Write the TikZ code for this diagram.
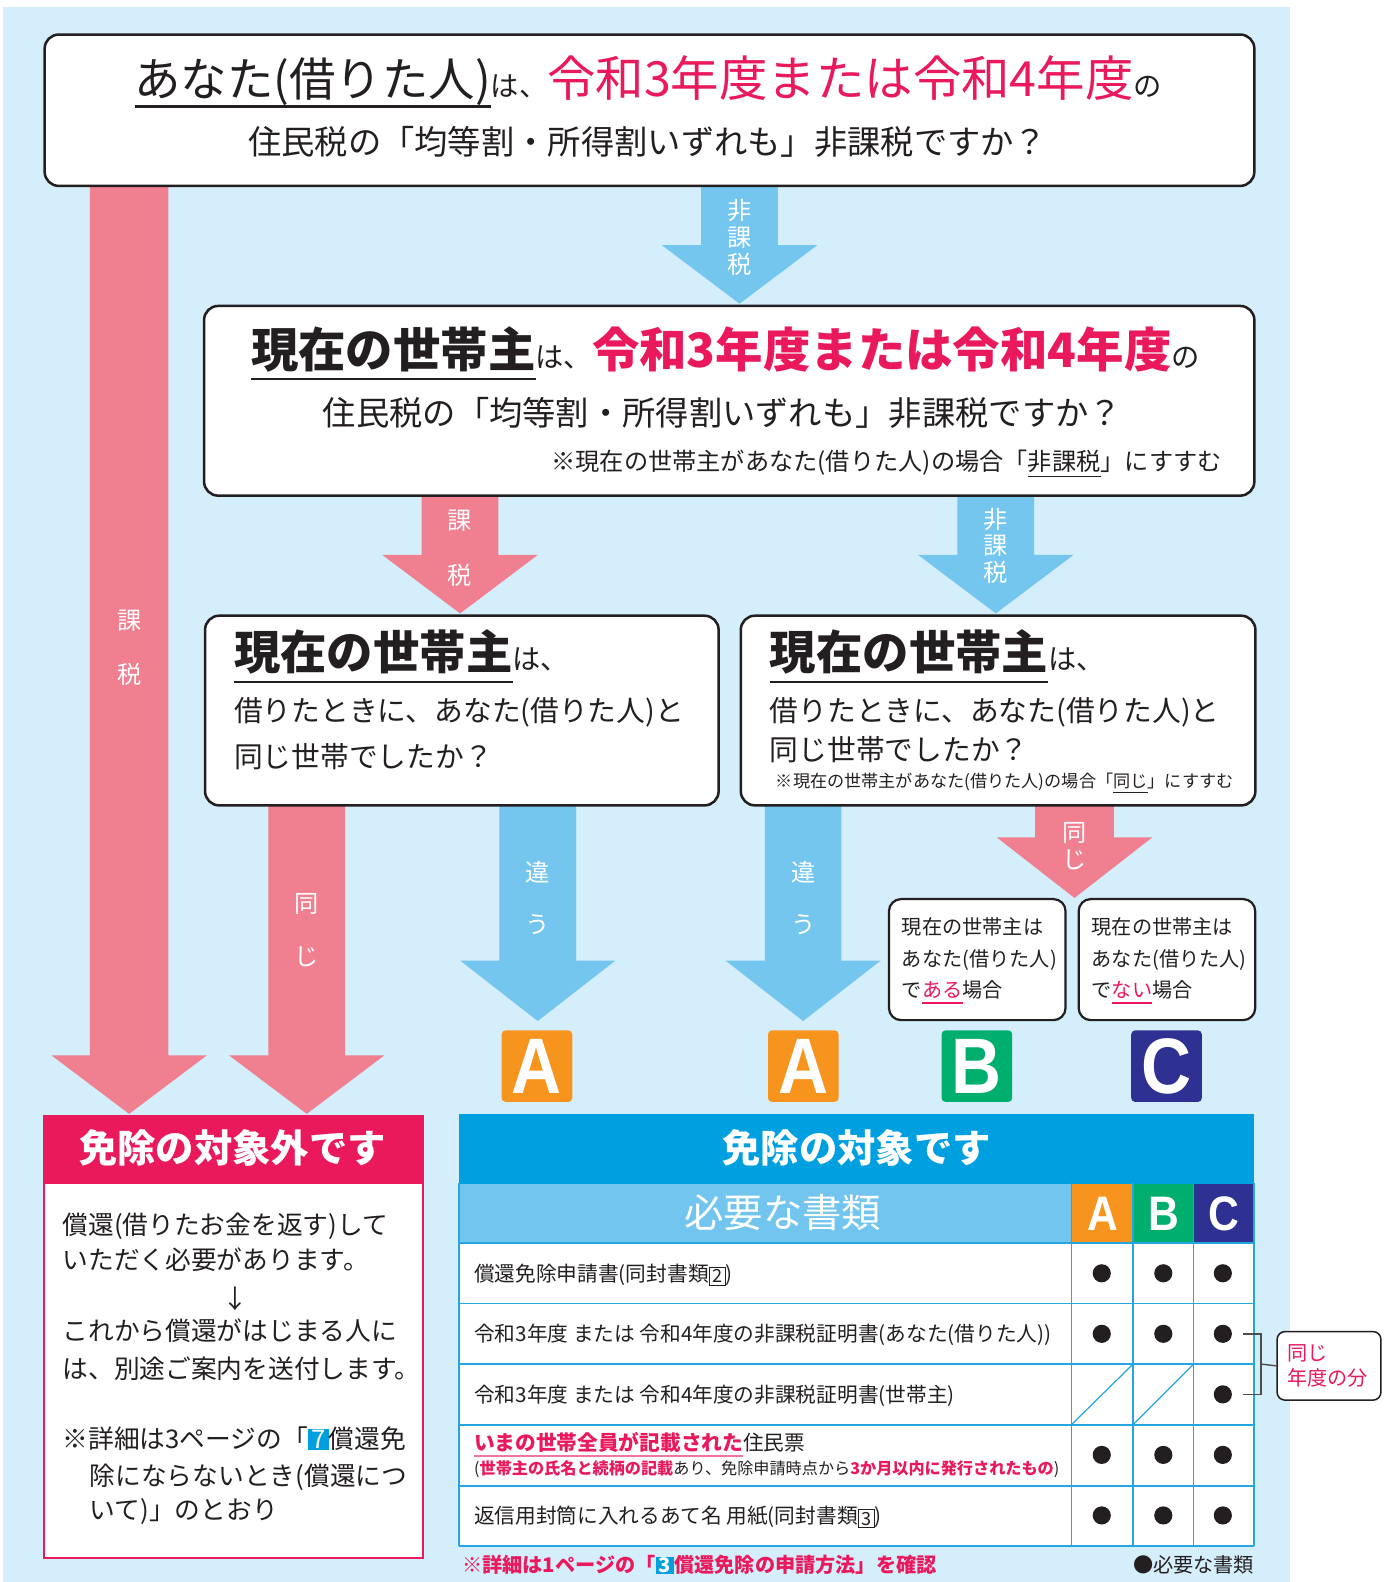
\documentclass[tikz,border=0pt]{standalone}
\usepackage{fontspec}
\usepackage{graphicx}
\setmainfont{Noto Sans CJK JP}
\newfontfamily\lat{Liberation Sans}
\usetikzlibrary{calc}
\definecolor{bg}{HTML}{D4EEFB}
\definecolor{pk}{HTML}{F07F90}
\definecolor{bl}{HTML}{74C6EF}
\definecolor{mag}{HTML}{E9195C}
\definecolor{dark}{HTML}{231F20}
\definecolor{hblue}{HTML}{00A0E0}
\definecolor{lblue}{HTML}{72C5EE}
\definecolor{tline}{HTML}{25A6E0}
\definecolor{org}{HTML}{F7941D}
\definecolor{grn}{HTML}{00AE6D}
\definecolor{nvy}{HTML}{2E3192}
\definecolor{gry}{HTML}{4D4D4D}
\newcommand\fsz[1]{\fontsize{#1}{#1}\selectfont}
\newcommand\ulx[4]{\setbox0\hbox{#4}\rlap{\textcolor{#3}{\rule[-#1pt]{\wd0}{#2pt}}}\box0}
\newcommand\numbox[1]{{\setlength\fboxsep{1.2pt}\colorbox{hblue}{\hspace{2pt}\textcolor{white}{#1}\hspace{2pt}}}}
\newcommand\sqbox[1]{{\setlength\fboxsep{2pt}\setlength\fboxrule{0.9pt}\raisebox{-1.5pt}{\fbox{\fsz{18}\hspace{0.5pt}#1\hspace{0.5pt}}}}}
\newcommand\barrow[7]{\fill[#1] (#2-#6,#3) -- (#2+#6,#3) -- (#2+#6,#4) -- (#2+#7,#4) -- (#2,#5) -- (#2-#7,#4) -- (#2-#6,#4) -- cycle;}
\tikzset{
 txt/.style={inner sep=0pt, outer sep=0pt, text=dark},
 qbox/.style={draw=dark, line width=2.5pt, rounded corners=14pt, fill=white, anchor=north west, inner sep=0pt},
 sbox/.style={draw=dark, line width=2.2pt, rounded corners=12pt, fill=white, anchor=north west, inner sep=0pt},
 alab/.style={inner sep=0pt, text=white, font=\fsz{24}},
 badge/.style={rounded corners=4pt, inner sep=0pt, anchor=north west, text=white},
 dot/.style={circle, fill=dark, inner sep=0pt, minimum size=18pt},
 tcell/.style={inner sep=0pt, anchor=north west},
}
\begin{document}
\begin{tikzpicture}[x=1pt,y=-1pt]
\useasboundingbox (0,0) rectangle (1380,1568);
\fill[white] (0,0) rectangle (1380,1568);
\fill[bg] (3,7) rectangle (1279,1568);

% ---- block arrows ----
\barrow{bl}{733}{180}{243}{301}{38}{77}
\barrow{pk}{128}{180}{1046}{1104}{39}{77}
\barrow{pk}{456}{488}{550}{608}{38}{77}
\barrow{bl}{987}{488}{550}{608}{38}{77}
\barrow{pk}{304}{795}{1046}{1104}{38}{77}
\barrow{bl}{533}{795}{952}{1012}{38}{77}
\barrow{bl}{796}{795}{952}{1012}{38}{77}
\barrow{pk}{1065}{795}{830}{890}{39}{77}

% arrow labels
\node[alab] (a1a) at (733,209) {非};
\node[alab] (a1b) at (733,236) {課};
\node[alab] (a1c) at (733,262) {税};
\node[alab] (a2a) at (128,615) {課};
\node[alab] (a2b) at (128,668) {税};
\node[alab] (a3a) at (456,516) {課};
\node[alab] (a3b) at (456,570) {税};
\node[alab] (a4a) at (987,515) {非};
\node[alab] (a4b) at (987,541) {課};
\node[alab] (a4c) at (987,567) {税};
\node[alab] (a5a) at (304,896) {同};
\node[alab] (a5b) at (304,948) {じ};
\node[alab] (a6a) at (533,864) {違};
\node[alab] (a6b) at (533,916) {う};
\node[alab] (a7a) at (796,864) {違};
\node[alab] (a7b) at (796,916) {う};
\node[alab] (a8a) at (1065,826) {同};
\node[alab] (a8b) at (1065,852) {じ};

% ---- question boxes ----
\node[qbox, minimum width=1199pt, minimum height=150pt] (q1) at (43,33) {};
\node[txt, anchor=base] (q1l1) at (642.5,96) {\fsz{46}\ulx{11}{2.5}{dark}{あなた(借りた人)}\fsz{28}は、\fsz{48}\textcolor{mag}{令和3年度または令和4年度}\fsz{28}の};
\node[txt, anchor=base] (q1l2) at (642,153) {\fsz{33}住民税の「均等割・所得割いずれも」非課税ですか？};

\node[qbox, minimum width=1041pt, minimum height=188pt] (q2) at (201,302) {};
\node[txt, anchor=base] (q2l1) at (719,364) {\bfseries\fsz{47}\ulx{13}{2.5}{dark}{現在の世帯主}\mdseries\fsz{28}は、\bfseries\fsz{47}\textcolor{mag}{令和3年度または令和4年度}\mdseries\fsz{28}の};
\node[txt, anchor=base] (q2l2) at (716,422) {\fsz{33}住民税の「均等割・所得割いずれも」非課税ですか？};
\node[txt, anchor=base east] (q2l3) at (1211,466) {\fsz{24}※現在の世帯主があなた(借りた人)の場合「\ulx{7}{1.5}{dark}{非課税}」にすすむ};

\node[qbox, minimum width=509pt, minimum height=188pt] (q3) at (202,609) {};
\node[txt, anchor=base west] (q3l1) at (232,664) {\bfseries\fsz{46}\ulx{13}{2.5}{dark}{現在の世帯主}\mdseries\fsz{28}は、};
\node[txt, anchor=base west] (q3l2) at (232,715) {\fsz{28.5}借りたときに、あなた(借りた人)と};
\node[txt, anchor=base west] (q3l3) at (232,761) {\fsz{28.5}同じ世帯でしたか？};

\node[qbox, minimum width=510pt, minimum height=188pt] (q4) at (733,609) {};
\node[txt, anchor=base west] (q4l1) at (763,664) {\bfseries\fsz{46}\ulx{13}{2.5}{dark}{現在の世帯主}\mdseries\fsz{28}は、};
\node[txt, anchor=base west] (q4l2) at (763,715) {\fsz{28.5}借りたときに、あなた(借りた人)と};
\node[txt, anchor=base west] (q4l3) at (763,754) {\fsz{28.5}同じ世帯でしたか？};
\node[txt, anchor=base west] (q4l4) at (769,781) {\fsz{17}※現在の世帯主があなた(借りた人)の場合「\ulx{5}{1.2}{dark}{同じ}」にすすむ};

% ---- small boxes ----
\node[sbox, minimum width=175pt, minimum height=120pt] (sb) at (880,890) {};
\node[txt, anchor=base west] (sb1) at (894,926) {\fsz{20}現在の世帯主は};
\node[txt, anchor=base west] (sb2) at (894,958) {\fsz{20}あなた(借りた人)};
\node[txt, anchor=base west] (sb3) at (894,989) {\fsz{20}で\ulx{6}{1.6}{mag}{\textcolor{mag}{ある}}場合};
\node[sbox, minimum width=175pt, minimum height=120pt] (sc) at (1068,890) {};
\node[txt, anchor=base west] (sc1) at (1082,926) {\fsz{20}現在の世帯主は};
\node[txt, anchor=base west] (sc2) at (1082,958) {\fsz{20}あなた(借りた人)};
\node[txt, anchor=base west] (sc3) at (1082,989) {\fsz{20}で\ulx{6}{1.6}{mag}{\textcolor{mag}{ない}}場合};

% ---- badges ----
\node[badge, fill=org, minimum width=70pt, minimum height=71pt] (bA1) at (497,1021) {};
\node[txt, text=white] at (bA1.center) {\lat\bfseries\fsz{78}\scalebox{0.88}[1]{A}};
\node[badge, fill=org, minimum width=70pt, minimum height=71pt] (bA2) at (761,1021) {};
\node[txt, text=white] at (bA2.center) {\lat\bfseries\fsz{78}\scalebox{0.88}[1]{A}};
\node[badge, fill=grn, minimum width=70pt, minimum height=71pt] (bB) at (933,1021) {};
\node[txt, text=white] at (bB.center) {\lat\bfseries\fsz{78}\scalebox{0.88}[1]{B}};
\node[badge, fill=nvy, minimum width=70pt, minimum height=71pt] (bC) at (1121,1021) {};
\node[txt, text=white] at (bC.center) {\lat\bfseries\fsz{78}\scalebox{0.88}[1]{C}};

% ---- left result ----
\node[tcell, fill=white, draw=mag, line width=2pt, minimum width=375pt, minimum height=438pt] (lres) at (43,1105) {};
\node[tcell, fill=mag, minimum width=375pt, minimum height=68pt] (lhead) at (43,1105) {};
\node[txt, anchor=base, text=white] (lht) at (230.5,1152) {\bfseries\fsz{38}免除の対象外です};
\node[txt, anchor=base west] (lb1) at (62,1224) {\fsz{25.5}償還(借りたお金を返す)して};
\node[txt, anchor=base west] (lb2) at (62,1258) {\fsz{25.5}いただく必要があります。};
\node[txt] (lb3) at (233,1287) {\fsz{25.5}↓};
\node[txt, anchor=base west] (lb4) at (62,1329) {\fsz{25.5}これから償還がはじまる人に};
\node[txt, anchor=base west] (lb5) at (62,1366) {\fsz{25.5}は、別途ご案内を送付します。};
\node[txt, anchor=base west] (lb6) at (62,1436) {\fsz{25.5}※詳細は3ページの「\numbox{7}償還免};
\node[txt, anchor=base west] (lb7) at (89,1472) {\fsz{25.5}除にならないとき(償還につ};
\node[txt, anchor=base west] (lb8) at (89,1506) {\fsz{25.5}いて)」のとおり};

% ---- right table ----
\node[tcell, fill=hblue, minimum width=788pt, minimum height=69pt] (thead) at (455,1104) {};
\node[txt, anchor=base, text=white] (tht) at (849,1152) {\bfseries\fsz{38}免除の対象です};
\node[tcell, fill=lblue, minimum width=607pt, minimum height=59pt] (tsub) at (455,1173) {};
\node[txt, anchor=base, text=white] (tst) at (776,1217) {\fsz{39}必要な書類};
\node[tcell, fill=org, minimum width=61pt, minimum height=59pt] (hA) at (1062,1173) {};
\node[tcell, fill=grn, minimum width=60pt, minimum height=59pt] (hB) at (1123,1173) {};
\node[tcell, fill=nvy, minimum width=60pt, minimum height=59pt] (hC) at (1183,1173) {};
\node[txt, text=white] at (hA.center) {\lat\bfseries\fsz{48}\scalebox{0.88}[1]{A}};
\node[txt, text=white] at (hB.center) {\lat\bfseries\fsz{48}\scalebox{0.88}[1]{B}};
\node[txt, text=white] at (hC.center) {\lat\bfseries\fsz{48}\scalebox{0.88}[1]{C}};
\fill[white] (455,1232) rectangle (1243,1532);
\begin{scope}[tline, line width=1.8pt]
\foreach \yy in {1232,1292,1352,1412,1473,1532} \draw (455,\yy) -- (1243,\yy);
\draw (455,1173) -- (455,1532);
\foreach \xx in {1062,1123,1183} \draw (\xx,1173) -- (\xx,1532);
\draw (1243,1173) -- (1243,1532);
\draw[line width=1.2pt] (1062,1412) -- (1123,1352);
\draw[line width=1.2pt] (1123,1412) -- (1183,1352);
\end{scope}
\node[txt, anchor=base west] (r1) at (470,1270) {\fsz{20.5}償還免除申請書(同封書類\sqbox{2})};
\node[txt, anchor=base west] (r2) at (470,1330) {\fsz{20.5}令和3年度 または 令和4年度の非課税証明書(あなた(借りた人))};
\node[txt, anchor=base west] (r3) at (470,1390) {\fsz{20.5}令和3年度 または 令和4年度の非課税証明書(世帯主)};
\node[txt, anchor=base west] (r4) at (470,1438) {\fsz{20.5}\ulx{6}{2}{mag!60}{\bfseries\textcolor{mag}{いまの世帯全員が記載された}}住民票};
\node[txt, anchor=base west] (r4b) at (470,1461) {\fsz{16}(\textcolor{mag}{\bfseries 世帯主の氏名と続柄の記載}あり、免除申請時点から\textcolor{mag}{\bfseries 3か月以内に発行されたもの})};
\node[txt, anchor=base west] (r5) at (470,1510) {\fsz{20.5}返信用封筒に入れるあて名 用紙(同封書類\sqbox{3})};
\foreach \yy/\nm in {1262/1,1322/2,1442/4,1502/5} {
  \node[dot] (dA\nm) at (1092,\yy) {};
  \node[dot] (dB\nm) at (1153,\yy) {};
  \node[dot] (dC\nm) at (1212,\yy) {};
}
\node[dot] (dC3) at (1212,1382) {};

% ---- bracket and callout ----
\node[sbox, line width=1.5pt, rounded corners=8pt, minimum width=103pt, minimum height=68pt] (cb) at (1265,1319) {};
\node[txt, anchor=base west, text=mag] (cb1) at (1276,1348) {\fsz{20}同じ};
\node[txt, anchor=base west, text=mag] (cb2) at (1276,1373) {\fsz{20}年度の分};
\coordinate (brm) at (1250,1352);
\draw[gry, line width=1.4pt] ([xshift=11pt]dC2.east) -- (1250,1322) -- (1250,1382) -- ([xshift=11pt]dC3.east);
\draw[gry, line width=1.4pt] (brm) -- (cb.west);

% ---- footnotes ----
\node[txt, anchor=base west, text=mag] (fn1) at (458,1559) {\bfseries\fsz{20}※詳細は1ページの「\numbox{3}償還免除の申請方法」を確認};
\node[txt, anchor=base east] (fn2) at (1243,1559) {\fsz{20}●必要な書類};
\end{tikzpicture}
\end{document}
